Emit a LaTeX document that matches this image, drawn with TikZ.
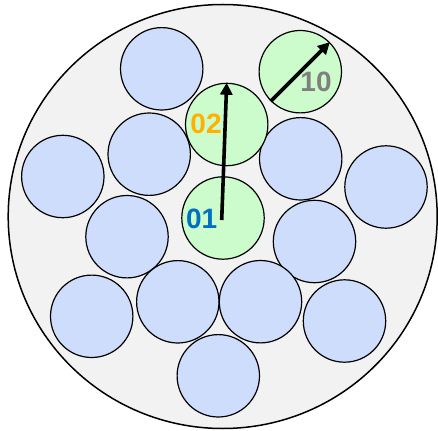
\documentclass[tikz,border=0pt]{standalone}
\usepackage{fontspec}
\setmainfont{Liberation Sans}
\usetikzlibrary{arrows.meta}

\definecolor{ringgray}{HTML}{F2F2F2}
\definecolor{cellblue}{HTML}{CFDDFC}
\definecolor{cellgreen}{HTML}{CCFCCC}
\definecolor{numblue}{HTML}{0070C0}
\definecolor{numorange}{HTML}{FFB000}
\definecolor{numgray}{HTML}{808080}

\begin{document}
\begin{tikzpicture}[x=1pt, y=-1pt, >={Triangle[length=12pt, width=12pt]},
    cell/.style={circle, draw, line width=1.2pt, minimum size=82.4pt, inner sep=0pt},
    bluecell/.style={cell, fill=cellblue},
    greencell/.style={cell, fill=cellgreen},
    num/.style={font=\bfseries\fontsize{28}{28}\selectfont, inner sep=0pt}]
    \useasboundingbox (0,0) rectangle (438,430);
    \draw[line width=1.5pt, fill=ringgray] (222.7,216.5) ellipse (214.5pt and 212pt);

    \node[bluecell] (b1) at (161.7,68.8) {};
    \node[bluecell] (b2) at (149.2,154.2) {};
    \node[bluecell] (b3) at (62.8,176.5) {};
    \node[bluecell] (b4) at (300.7,158.8) {};
    \node[bluecell] (b5) at (386,187) {};
    \node[bluecell] (b6) at (127,236.7) {};
    \node[bluecell] (b7) at (314.5,241.5) {};
    \node[bluecell] (b8) at (91.7,316.3) {};
    \node[bluecell] (b9) at (177.8,301.8) {};
    \node[bluecell] (b10) at (260.5,301.7) {};
    \node[bluecell] (b11) at (344.5,321) {};
    \node[bluecell] (b12) at (218.3,375.8) {};

    \node[greencell] (g01) at (223,218) {};
    \node[greencell] (g02) at (226.7,124.5) {};
    \node[greencell] (g10) at (300.3,71.7) {};

    \node[num, numorange] (t02) at (206,123.5) {02};
    \node[num, numblue] (t01) at (201.7,219) {01};
    \node[num, numgray] (t10) at (316,81.7) {10};

    \draw[->, line width=3.6pt] ([xshift=-1.3pt, yshift=-2pt]g01.center) -- (g02.north);
    \draw[->, line width=3.6pt] (g10.225) -- (g10.45);
\end{tikzpicture}
\end{document}
